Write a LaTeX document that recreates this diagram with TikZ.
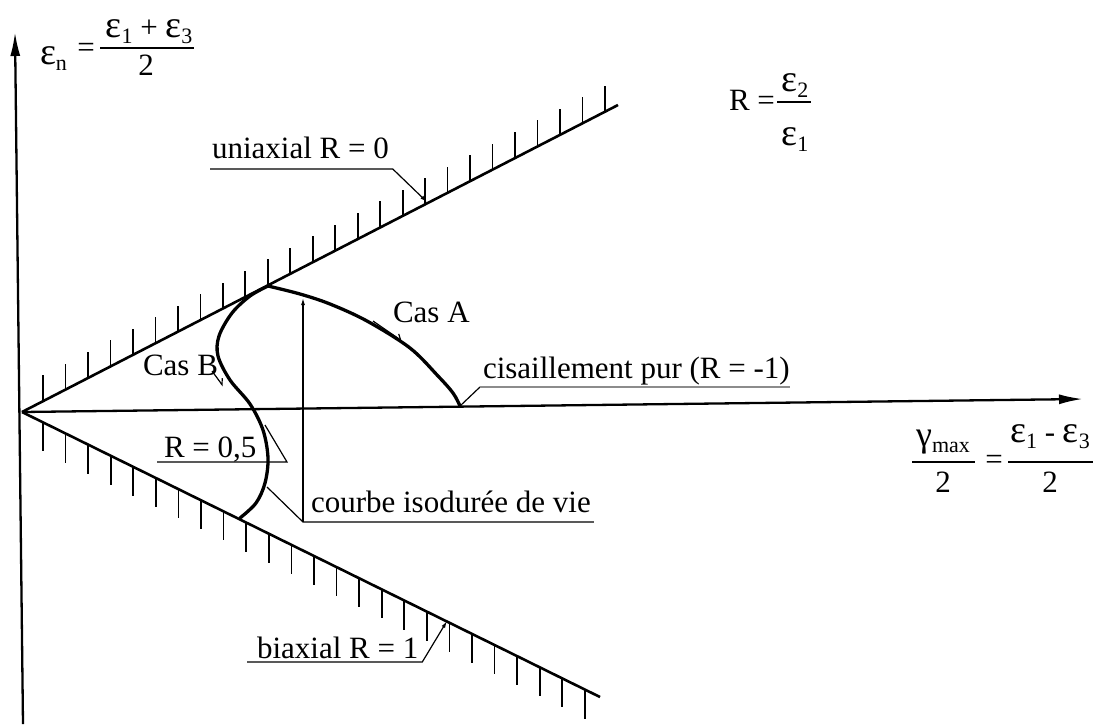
\documentclass[tikz,border=0pt]{standalone}
\usepackage{fontspec}
\setmainfont{Liberation Serif}
\usetikzlibrary{arrows.meta}
\newcommand\lowsub[1]{\raisebox{-6pt}{\fontsize{22}{22}\selectfont #1}}
\newcommand\epsl{{\fontsize{38}{38}\selectfont ε}}
\newcommand\gaml{{\fontsize{36}{36}\selectfont γ}}
\begin{document}
\begin{tikzpicture}[x=1pt,y=-1pt,
  every node/.style={font=\fontsize{31}{36}\selectfont, inner sep=0pt, outer sep=0pt},
  txt/.style={anchor=base west},
  axisline/.style={line width=2.3pt, -{Latex[length=24pt,width=10pt]}},
  boundline/.style={line width=2.6pt},
  hatch/.style={line width=1.7pt},
  lifecurve/.style={line width=3.3pt, line join=round, line cap=round},
  leader/.style={line width=1.2pt},
  leadtip/.style={leader, -{Latex[length=7pt,width=4pt]}},
  harp/.style={line width=1.2pt, -{Straight Barb[harpoon,length=5pt,width=8pt]}},
  fracbar/.style={line width=1.5pt}
]
\useasboundingbox (0,0) rectangle (1105,724);
% main geometry
\coordinate (O) at (22,412);
\coordinate (Ybot) at (23,724);
\coordinate (Ytop) at (15,32);
\coordinate (Xtip) at (1083,399);
\coordinate (U) at (618,105);
\coordinate (L) at (600,697);
\coordinate (K) at (268,286);
\coordinate (P) at (460,406);
\coordinate (E) at (240,518);

\draw[axisline] (Ybot) -- (Ytop);
\draw[axisline] (O) -- (Xtip);
\draw[boundline] (O) -- (U);
\draw[boundline] (O) -- (L);

% hatching
\foreach \k in {0,...,25}{
  \pgfmathsetmacro\tx{43+22.48*\k}
  \pgfmathsetmacro\ty{412-0.5151*(\tx-22)}
  \draw[hatch] (\tx,\ty) -- ++(0,-26);
}
\foreach \k in {0,...,24}{
  \pgfmathsetmacro\tx{43+22.58*\k}
  \pgfmathsetmacro\ty{412+0.4931*(\tx-22)}
  \draw[hatch] (\tx,\ty) -- ++(0,29);
}

% iso-life curve
\draw[lifecurve] plot[smooth, tension=0.55] coordinates {(K) (300,294) (330,304) (367,321) (410,348) (438,376) (453,393) (P)};
\draw[lifecurve] plot[smooth, tension=0.55] coordinates {(K) (250,296) (232,313) (219,336) (218,356) (230,380) (250,404) (263,430) (268,458) (265,483) (256,503) (E)};

% direction marks
\draw[harp] (373,321) -- (402,341);
\draw[harp] (212,371) -- (223,386);

% labels
\node[txt] (uni) at (212,158) {uniaxial R = 0};
\coordinate (uniT) at (427,202);
\draw[leadtip] ([xshift=-2pt,yshift=-11pt]uni.base west) -- ([xshift=4pt,yshift=-11pt]uni.base east) -- (uniT);

\node[txt] (bi) at (257,658) {biaxial R = 1};
\coordinate (biT) at (447,621);
\draw[leadtip] ([xshift=-10pt,yshift=-4pt]bi.base west) -- ([xshift=4pt,yshift=-4pt]bi.base east) -- (biT);

\node[txt] (casA) at (393,322) {Cas A};
\node[txt] (casB) at (143,375) {Cas B};

\node[txt] (cis) at (483,378) {cisaillement pur (R = -1)};
\coordinate (cisL) at (480,387);
\draw[leader] (P) -- (cisL);
\draw[leader, black!45] (cisL) -- ([yshift=-9pt]cis.base east);

\node[txt] (r05) at (164,457) {R = 0,5};
\coordinate (rc) at (265,425);
\coordinate (rk) at (287,462);
\draw[leader] (rc) -- (rk) -- ([xshift=-7pt,yshift=-5pt]r05.base west);

\node[txt] (cb) at (311,512) {courbe isodurée de vie};
\coordinate (cc) at (267,487);
\coordinate (cv) at (303,522);
\coordinate (vt) at (303,298);
\draw[leader] (cc) -- (cv) -- ([xshift=3pt,yshift=-10pt]cb.base east);
\draw[leadtip] (cv) -- (vt);

% axis label top-left
\node[txt] (en) at (40,64) {\epsl\lowsub{n}};
\node (eq1) at (86,50) {=};
\draw[fracbar] (100,48) -- (194,48);
\node[anchor=base] (n1) at (149,37) {\epsl\lowsub{1} + \epsl\lowsub{3}};
\node[anchor=base] (d1) at (146,75) {2};

% R definition
\node[txt] (Rdef) at (729,110) {R =};
\draw[fracbar] (777,102) -- (811,102);
\node[anchor=base] (n2) at (795,91) {\epsl\lowsub{2}};
\node[anchor=base] (d2) at (795,145) {\epsl\lowsub{1}};

% axis label bottom-right
\node[anchor=base] (g) at (943,446) {\gaml\lowsub{max}};
\draw[fracbar] (912,462) -- (975,462);
\node[anchor=base] (d3) at (943,492) {2};
\node (eq3) at (994,462) {=};
\draw[fracbar] (1008,462) -- (1093,462);
\node[anchor=base] (n4) at (1050,442) {\epsl\lowsub{1} - \epsl\lowsub{3}};
\node[anchor=base] (d4) at (1050,492) {2};
\end{tikzpicture}
\end{document}
